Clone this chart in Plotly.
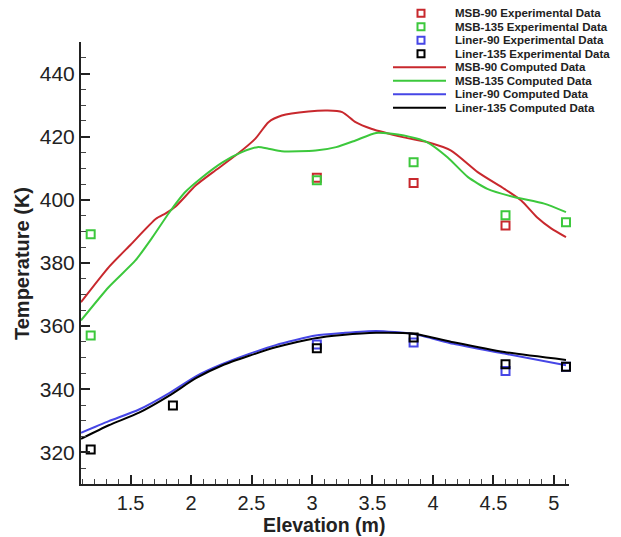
import plotly.graph_objects as go

# ---------------- data ----------------
# computed curves (elevation m, temperature K)
msb90_x = [1.09, 1.32, 1.50, 1.71, 1.79, 1.87, 2.04, 2.20, 2.37, 2.53, 2.64, 2.75, 2.97, 3.13, 3.25, 3.36, 3.49, 3.76, 3.95, 4.15, 4.37, 4.59, 4.73, 4.86, 4.98, 5.10]
msb90_T = [367.6, 378.7, 385.8, 394.0, 395.7, 397.8, 404.6, 409.3, 414.1, 419.3, 424.6, 426.7, 428.0, 428.3, 427.8, 424.6, 422.5, 419.8, 418.3, 415.6, 408.8, 403.5, 399.8, 394.5, 390.9, 388.2]

msb135_x = [1.09, 1.32, 1.54, 1.68, 1.82, 1.95, 2.09, 2.26, 2.42, 2.55, 2.64, 2.75, 3.03, 3.20, 3.36, 3.53, 3.76, 3.95, 4.12, 4.29, 4.45, 4.67, 4.92, 5.10]
msb135_T = [361.8, 372.4, 380.8, 388.1, 396.0, 402.4, 407.1, 411.9, 415.1, 416.7, 416.2, 415.4, 415.6, 416.7, 418.8, 421.2, 420.4, 418.3, 413.5, 407.2, 403.5, 400.9, 398.8, 396.1]

liner_x = [1.09, 1.32, 1.57, 1.82, 2.04, 2.26, 2.48, 2.70, 3.03, 3.25, 3.53, 3.84, 4.17, 4.59, 5.10]
liner90_T = [326.2, 329.9, 333.6, 338.8, 344.1, 348.0, 351.2, 354.0, 357.0, 357.8, 358.5, 357.5, 354.4, 351.3, 347.6]
liner135_T = [324.3, 328.6, 332.6, 338.0, 343.5, 347.6, 350.6, 353.3, 356.2, 357.2, 357.9, 357.6, 354.9, 351.8, 349.3]

# experimental data
msb90_exp_x = [3.04, 3.84, 4.60]
msb90_exp_T = [407.0, 405.3, 391.9]
msb135_exp_x = [1.17, 1.17, 3.04, 3.84, 4.60, 5.10]
msb135_exp_T = [389.1, 357.0, 406.2, 411.9, 395.1, 392.9]
liner90_exp_x = [3.04, 3.84, 4.60, 5.10]
liner90_exp_T = [354.2, 354.8, 345.8, 347.1]
liner135_exp_x = [1.17, 1.85, 3.04, 3.84, 4.60, 5.10]
liner135_exp_T = [320.9, 334.9, 353.0, 356.4, 347.9, 347.1]

x_tickvals = [1.5, 2, 2.5, 3, 3.5, 4, 4.5, 5]
x_ticktext = ["1.5", "2", "2.5", "3", "3.5", "4", "4.5", "5"]
y_tickvals = [320, 340, 360, 380, 400, 420, 440]
y_ticktext = ["320", "340", "360", "380", "400", "420", "440"]

x_title = "Elevation (m)"
y_title = "Temperature (K)"

legend_labels = [
    "MSB-90 Experimental Data", "MSB-135 Experimental Data",
    "Liner-90 Experimental Data", "Liner-135 Experimental Data",
    "MSB-90 Computed Data", "MSB-135 Computed Data",
    "Liner-90 Computed Data", "Liner-135 Computed Data",
]

# ---------------- styles ----------------
RED, GREEN, BLUE, BLACK = "#c8282d", "#3cc83c", "#4646e6", "#000000"
FONT = "Liberation Sans, Arial, Helvetica, sans-serif"

fig = go.Figure()

lines = [
    (msb90_x, msb90_T, RED),
    (msb135_x, msb135_T, GREEN),
    (liner_x, liner90_T, BLUE),
    (liner_x, liner135_T, BLACK),
]
for x, y, c in lines:
    fig.add_trace(go.Scatter(x=x, y=y, mode="lines",
                             line=dict(color=c, width=2, shape="spline", smoothing=0.6),
                             showlegend=False, hoverinfo="skip"))

exps = [
    (msb90_exp_x, msb90_exp_T, RED),
    (msb135_exp_x, msb135_exp_T, GREEN),
    (liner90_exp_x, liner90_exp_T, BLUE),
    (liner135_exp_x, liner135_exp_T, BLACK),
]
for x, y, c in exps:
    fig.add_trace(go.Scatter(x=x, y=y, mode="markers",
                             marker=dict(symbol="square-open", size=8, color=c, line=dict(width=2, color=c)),
                             showlegend=False, cliponaxis=False))

# ---------------- layout geometry (page body has an 8px margin) ----------------
OFF = 8
W, H = 621 - OFF, 537 - OFF
L, R, T, B = 73, 52, 34, 53
pw, ph = W - L - R, H - T - B

def px2paper_x(px):
    return (px - OFF - L) / pw

def py2paper_y(py):
    return (OFF + H - B - py) / ph

colors = [RED, GREEN, BLUE, BLACK, RED, GREEN, BLUE, BLACK]
shapes = []
annotations = []
for i, (lab, c) in enumerate(zip(legend_labels, colors)):
    ypix = 13.2 + i * 13.5
    yp = py2paper_y(ypix)
    if i < 4:
        shapes.append(dict(type="rect", xref="paper", yref="paper",
                           xsizemode="pixel", ysizemode="pixel",
                           xanchor=px2paper_x(421), yanchor=yp,
                           x0=-3.5, x1=3.5, y0=-3.5, y1=3.5,
                           line=dict(color=c, width=2)))
    else:
        shapes.append(dict(type="line", xref="paper", yref="paper",
                           x0=px2paper_x(393), x1=px2paper_x(446), y0=yp, y1=yp,
                           line=dict(color=c, width=2)))
    annotations.append(dict(text="<b>" + lab + "</b>", xref="paper", yref="paper",
                            x=px2paper_x(454), y=yp, xanchor="left", yanchor="middle",
                            showarrow=False, borderpad=0,
                            font=dict(size=11.5, color="#222", family=FONT)))

# axis titles
annotations.append(dict(text="<b>" + x_title + "</b>", xref="paper", yref="paper",
                        x=px2paper_x(324), y=py2paper_y(525), xanchor="center", yanchor="middle",
                        showarrow=False, borderpad=0,
                        font=dict(size=19.5, color="#222", family=FONT)))
annotations.append(dict(text="<b>" + y_title + "</b>", xref="paper", yref="paper",
                        x=px2paper_x(22), y=py2paper_y(264), xanchor="center", yanchor="middle",
                        textangle=-90, showarrow=False, borderpad=0,
                        font=dict(size=20, color="#222", family=FONT)))

fig.update_layout(
    width=W, height=H,
    margin=dict(l=L, r=R, t=T, b=B, autoexpand=False),
    paper_bgcolor="white", plot_bgcolor="white",
    font=dict(family=FONT, color="#222"),
    showlegend=False,
    shapes=shapes, annotations=annotations,
    xaxis=dict(range=[1.09, 5.125], showgrid=False, zeroline=False,
               showline=True, linecolor="#222", linewidth=2,
               ticks="inside", ticklen=9, tickwidth=2, tickcolor="#222",
               tickvals=x_tickvals, ticktext=x_ticktext,
               tickfont=dict(size=20, family=FONT, color="#222"),
               minor=dict(ticks="inside", ticklen=5, tickwidth=1, tickcolor="#444", dtick=0.1, tick0=0),
               automargin=False),
    yaxis=dict(range=[310, 450], showgrid=False, zeroline=False,
               showline=True, linecolor="#222", linewidth=2,
               ticks="inside", ticklen=9, tickwidth=2, tickcolor="#222",
               tickvals=y_tickvals, ticktext=y_ticktext,
               tickfont=dict(size=21, family=FONT, color="#222"),
               minor=dict(ticks="inside", ticklen=5, tickwidth=1, tickcolor="#444", dtick=5, tick0=0),
               automargin=False),
)

fig.write_html("out.html")
